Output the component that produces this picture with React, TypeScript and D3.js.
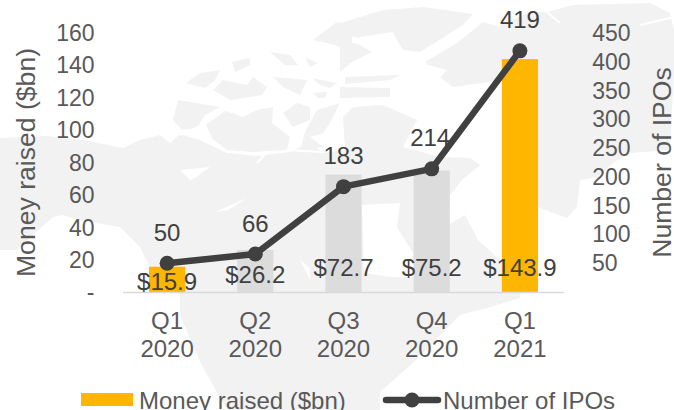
import React from "react";
import * as d3 from "d3";

const categories = [["Q1", "2020"], ["Q2", "2020"], ["Q3", "2020"], ["Q4", "2020"], ["Q1", "2021"]];
const moneyRaised = [15.9, 26.2, 72.7, 75.2, 143.9];
const moneyLabels = ["$15.9", "$26.2", "$72.7", "$75.2", "$143.9"];
const ipoCounts = [50, 66, 183, 214, 419];
const highlighted = [true, false, false, false, true];
const leftTicks = [20, 40, 60, 80, 100, 120, 140, 160];
const rightTicks = [50, 100, 150, 200, 250, 300, 350, 400, 450];

const GOLD = "#ffb600";
const GREY_BAR = "#dcdcdc";
const LINE = "#404040";
const AXIS_TEXT = "#595959";
const MAP = "#f2f2f2";
const FONT = "'Liberation Sans', Arial, sans-serif";
const TICK_FS = 23;
const LABEL_FS = 24;
const TITLE_FS = 26.6;

// Decorative background map, traced by eye
const mapLand = [
  "M0,138 L47,136 L83,140 L123,148 L140,140 L160,135 L170,143 L180,134 L200,140 L225,152 L257,156 L290,152 L310,142 L323,153 L345,150 L350,140 L403,147 L440,157 L470,158 L480,165 L462,180 L450,195 L448,225 L465,215 L478,240 L497,257 L522,278 L520,298 L487,308 L460,315 L414,362 L380,392 L380,410 L227,410 L200,362 L180,315 L180,295 L150,267 L140,247 L120,227 L77,220 L63,215 L53,217 L33,235 L17,250 L0,250 Z",
  "M186,83 L200,73 L220,70 L215,80 L205,88 L193,85 Z",
  "M232,62 L250,58 L250,65 L235,72 Z",
  "M213,90 L223,80 L247,85 L253,77 L267,87 L262,95 L230,100 Z",
  "M173,120 L178,100 L220,107 L205,115 L197,128 L182,130 Z",
  "M205,123 L223,110 L243,117 L257,110 L273,107 L272,123 L290,137 L287,150 L253,152 L227,150 L213,140 Z",
  "M270,52 L290,55 L298,65 L285,65 Z",
  "M273,77 L307,80 L300,95 L283,87 Z",
  "M305,57 L318,63 L310,67 Z",
  "M312,78 L337,83 L330,88 L320,85 Z",
  "M313,93 L327,92 L325,98 L318,98 Z",
  "M283,113 L297,103 L310,107 L310,120 L293,127 Z",
  "M317,110 L340,103 L330,123 L323,133 L310,137 L323,147 L300,150 L305,132 Z",
  "M313,40 L337,22 L352,24 L352,50 L327,43 Z",
  "M340,23 L360,17 L383,10 L423,7 L473,14 L463,25 L420,52 L403,50 L393,33 L360,38 L345,35 Z",
  "M340,40 L358,44 L372,52 L352,62 L340,72 Z",
  "M345,77 L400,75 L390,80 L345,84 Z",
  "M340,87 L390,88 L390,97 L340,98 Z",
  "M425,62 L457,43 L483,22 L510,30 L510,50 L503,80 L453,87 L440,77 L447,70 L428,65 Z",
  "M343,117 L353,107 L383,105 L417,120 L403,147 L345,148 Z",
  // Greenland
  "M500,25 L530,12 L547,12 L573,5 L650,3 L670,13 L674,30 L674,70 L670,150 L630,153 L613,163 L597,177 L580,180 L577,207 L567,218 L538,207 L510,110 Z",
];

const mapWater = [
  "M362,205 L400,203 L397,227 L413,253 L413,277 L390,277 L364,273 Z",
  "M180,170 L210,167 L195,178 L190,180 Z",
  "M215,212 L247,198 L233,207 L228,210 Z",
  "M300,260 L310,268 L310,280 L305,270 Z",
];

const mapChannels = [
  "M180,135 L205,124 L225,110",
  "M210,138 L227,152 L257,154 L267,152 L257,163",
  "M287,150 L323,152",
  "M360,38 L393,33 L378,43",
  "M560,23 L547,12",
  "M640,25 L674,17",
];

export default function App() {
  const x = d3.scaleBand<number>().domain(d3.range(categories.length)).range([123, 564]).paddingInner(0.59).paddingOuter(0.295);
  const yL = d3.scaleLinear().domain([0, 160]).range([292.5, 33]);
  const yR = d3.scaleLinear().domain([0, 450]).range([292, 33]);
  const cx = (i: number) => x(i)! + x.bandwidth() / 2;
  const line = d3.line<number>().x((_, i) => cx(i)).y((d) => yR(d));

  return (
    <svg width={674} height={410} style={{ position: "absolute", left: 0, top: 0 }} fontFamily={FONT} fontSize={LABEL_FS}>
      <rect width={674} height={410} fill="#ffffff" />
      {mapLand.map((d, i) => <path key={i} d={d} fill={MAP} />)}
      {mapWater.map((d, i) => <path key={i} d={d} fill="#ffffff" />)}
      {mapChannels.map((d, i) => <path key={i} d={d} fill="none" stroke="#ffffff" strokeWidth={2} />)}

      {moneyRaised.map((v, i) => (
        <rect key={i} x={x(i)} y={yL(v)} width={x.bandwidth()} height={yL(0) - yL(v)} fill={highlighted[i] ? GOLD : GREY_BAR} />
      ))}
      <line x1={123} x2={564} y1={292.5} y2={292.5} stroke="#d9d9d9" strokeWidth={1.5} />

      <path d={line(ipoCounts)!} fill="none" stroke={LINE} strokeWidth={6.5} strokeLinecap="round" strokeLinejoin="round" />
      {ipoCounts.map((v, i) => <circle key={i} cx={cx(i)} cy={yR(v)} r={7.5} fill={LINE} />)}

      {ipoCounts.map((v, i) => (
        <text key={i} x={i === 3 ? cx(i) - 1.5 : cx(i)} y={yR(v) - 31} textAnchor="middle" dominantBaseline="central" fill={LINE}>{v}</text>
      ))}
      {moneyLabels.map((t, i) => (
        <text key={i} x={cx(i)} y={[281, 274, 267, 267, 267][i]} textAnchor="middle" dominantBaseline="central" fill={LINE}>{t}</text>
      ))}

      <g fontSize={TICK_FS} fill={AXIS_TEXT}>
        {leftTicks.map((t) => (
          <text key={t} x={94.5} y={yL(t)} textAnchor="end" dominantBaseline="central">{t}</text>
        ))}
        <text x={94.5} y={292} textAnchor="end" dominantBaseline="central">-</text>
        {rightTicks.map((t) => (
          <text key={t} x={t === 50 ? 592 : 630.5} y={yR(t)} textAnchor={t === 50 ? "start" : "end"} dominantBaseline="central">{t}</text>
        ))}
      </g>
      <text transform="translate(26,162.5) rotate(-90)" textAnchor="middle" dominantBaseline="central" fontSize={TITLE_FS} fill={AXIS_TEXT}>Money raised ($bn)</text>
      <text transform="translate(662,162.5) rotate(-90)" textAnchor="middle" dominantBaseline="central" fontSize={TITLE_FS} fill={AXIS_TEXT}>Number of IPOs</text>

      {categories.map((c, i) => (
        <g key={i} fill={AXIS_TEXT} textAnchor="middle">
          <text x={cx(i)} y={320} dominantBaseline="central">{c[0]}</text>
          <text x={cx(i)} y={348} dominantBaseline="central">{c[1]}</text>
        </g>
      ))}

      <rect x={81} y={393} width={52} height={13} fill={GOLD} />
      <text x={139} y={400} dominantBaseline="central" fill={AXIS_TEXT}>Money raised ($bn)</text>
      <line x1={386} x2={438} y1={400} y2={400} stroke={LINE} strokeWidth={6.5} strokeLinecap="round" />
      <circle cx={412} cy={400} r={7.5} fill={LINE} />
      <text x={443} y={400} dominantBaseline="central" fill={AXIS_TEXT}>Number of IPOs</text>
    </svg>
  );
}
